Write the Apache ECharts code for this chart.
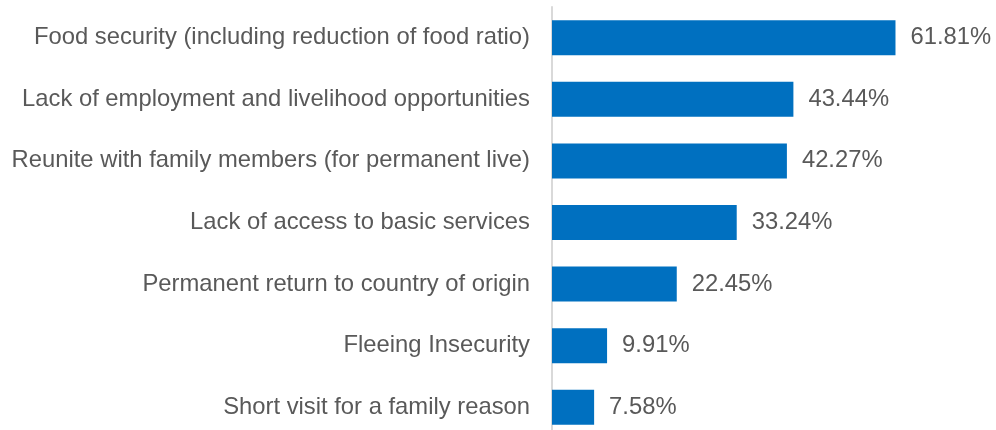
<!DOCTYPE html>
<html><head><meta charset="utf-8">
<script src="https://cdn.jsdelivr.net/npm/echarts@6/dist/echarts.min.js"></script>
<style>html,body{margin:0;padding:0;background:#fff;overflow:hidden}#c{width:996px;height:440px}</style>
</head><body><div id="c"></div>
<script>
const categories = [
  "Food security (including reduction of food ratio)",
  "Lack of employment and livelihood opportunities",
  "Reunite with family members (for permanent live)",
  "Lack of access to basic services",
  "Permanent return to country of origin",
  "Fleeing Insecurity",
  "Short visit for a family reason"
];
const values = [61.81, 43.44, 42.27, 33.24, 22.45, 9.91, 7.58];

const chart = echarts.init(document.getElementById('c'));
chart.setOption({
  animation: false,
  grid: {left: 552, right: 55, top: 7, height: 431, containLabel: false},
  xAxis: {type: 'value', min: 0, max: 70, show: false},
  yAxis: {
    type: 'category', data: categories, inverse: true,
    axisLine: {show: true, lineStyle: {color: '#d9d9d9', width: 2}},
    axisTick: {show: false},
    axisLabel: {fontFamily: 'Liberation Sans, Arial, sans-serif', fontSize: 23.8, color: '#595959', margin: 22}
  },
  series: [{
    type: 'bar', data: values, barWidth: 35,
    itemStyle: {color: '#0070C0'},
    label: {show: true, position: 'right', distance: 15,
      fontFamily: 'Liberation Sans, Arial, sans-serif', fontSize: 23.8, color: '#595959',
      formatter: p => p.value.toFixed(2) + '%'}
  }]
});
</script></body></html>
